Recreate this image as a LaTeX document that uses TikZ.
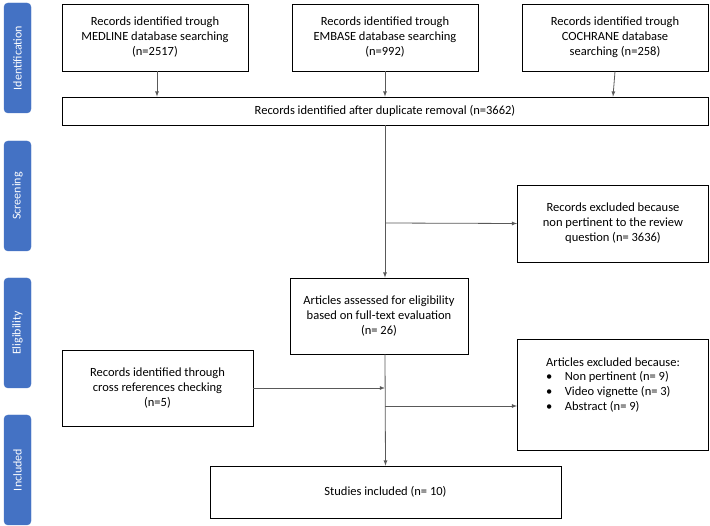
\documentclass[tikz,border=0pt]{standalone}
\usepackage{fontspec}
\setmainfont{Carlito}
\usetikzlibrary{positioning,calc}
\definecolor{phase}{HTML}{4472C4}
\tikzset{
  box/.style={draw, rectangle, thick, align=center, font=\fontsize{12.5}{15}\selectfont, inner sep=2pt},
  stage/.style={draw=phase, fill=phase, rounded corners=4pt, text=white, font=\fontsize{12}{14}\selectfont},
  flow/.style={-latex, gray!70!black, thick}
}
\begin{document}
\begin{tikzpicture}[x=1pt, y=-1pt]
        \useasboundingbox (0,0) rectangle (710,526);

        % stages
        \node[stage, minimum width=110pt, minimum height=27pt, rotate=90] (idt) at (17.5,58) {Identification};
        \node[stage, minimum width=110pt, minimum height=27pt, rotate=90] (scr) at (17.5,196) {Screening};
        \node[stage, minimum width=110pt, minimum height=27pt, rotate=90] (elg) at (17.5,333) {Eligibility};
        \node[stage, minimum width=110pt, minimum height=27pt, rotate=90] (inc) at (17.5,470) {Included};

        % boxes
        \node[box, minimum width=186pt, minimum height=67pt] (med) at (155,37.5)
        {Records identified trough\\MEDLINE database searching\\(n=2517)};
        \node[box, minimum width=186pt, minimum height=67pt] (emb) at (385,37.5)
        {Records identified trough\\EMBASE database searching\\(n=992)};
        \node[box, minimum width=186pt, minimum height=67pt] (coc) at (615,37.5)
        {Records identified trough\\COCHRANE database\\searching (n=258)};
        \node[box, minimum width=646pt, minimum height=28pt] (dup) at (385,111)
        {Records identified after duplicate removal (n=3662)};
        \node[box, minimum width=191pt, minimum height=77pt] (ex1) at (613,223.5)
        {Records excluded because\\non pertinent to the review\\question (n= 3636)};
        \node[box, minimum width=178pt, minimum height=76pt] (art) at (379,316)
        {Articles assessed for eligibility\\based on full-text evaluation\\(n= 26)};
        \node[box, minimum width=191pt, minimum height=76pt] (crs) at (157.5,388)
        {Records identified through\\cross references checking\\(n=5)};
        \node[box, minimum width=191pt, minimum height=111pt, align=left] (ex2) at (613,394.5)
        {Articles excluded because:\\[-1pt]
         \textbullet\hspace{1em}Non pertinent (n= 9)\\
         \textbullet\hspace{1em}Video vignette (n= 3)\\
         \textbullet\hspace{1em}Abstract (n= 9)\\[6pt]};
        \node[box, minimum width=351pt, minimum height=52pt] (inl) at (385.5,492)
        {Studies included (n= 10)};

        % connectors
        \coordinate (s1) at ($(dup.south)!0.5!(art.north)+(6,0)$);
        \draw[flow] ($(med.south)+(2,0)$) -- ($(dup.north)+(-228,0)$);
        \draw[flow] (emb.south) -- (emb.south |- dup.north);
        \draw[flow] (coc.south) -- ($(dup.north)+(228,0)$);
        \draw[flow] (dup.south) -- (dup.south |- art.north);
        \draw[flow] (385,223) -- (ex1.west);
        \draw[flow] (art.south -| 385,0) -- (inl.north);
        \draw[flow] (crs.east) -- (crs.east -| 385,0);
        \draw[flow] (385,406) -- (ex2.west |- 385,406);
\end{tikzpicture}
\end{document}
